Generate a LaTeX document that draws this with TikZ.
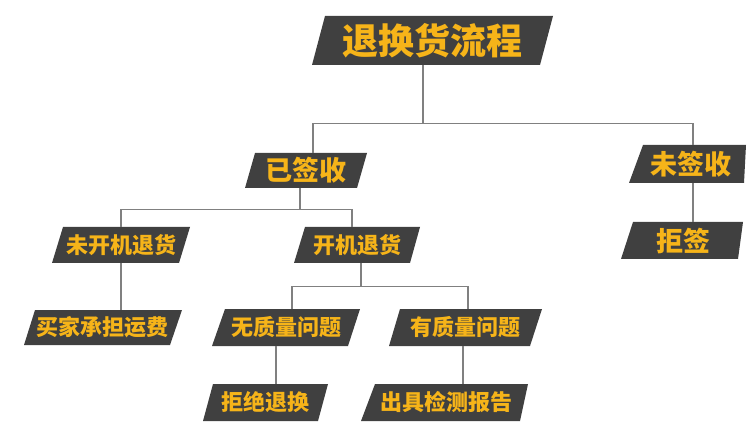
\documentclass[tikz,border=0pt]{standalone}
\usepackage{fontspec}
\newfontfamily\cjk{Noto Sans CJK SC}
\usetikzlibrary{backgrounds}
\definecolor{boxgray}{HTML}{404040}
\definecolor{txtyellow}{HTML}{F6B419}
\definecolor{linegray}{HTML}{808080}
\tikzset{
  boxfill/.style={fill=boxgray},
  boxtext/.style={inner sep=0pt, text=txtyellow, font=\cjk\bfseries},
  bigtxt/.style={boxtext, font=\cjk\bfseries\fontsize{36}{36}\selectfont},
  midtxt/.style={boxtext, font=\cjk\bfseries\fontsize{27}{27}\selectfont},
  smalltxt/.style={boxtext, font=\cjk\bfseries\fontsize{22}{22}\selectfont},
  conn/.style={draw=linegray, line width=1.2pt},
}
% name, tlx, trx, blx, brx, ty, by, style, text
\newcommand\pbox[9]{%
  \begin{scope}[on background layer]
  \fill[boxfill] (#2,#6) -- (#3,#6) -- (#5,#7) -- (#4,#7) -- cycle;
  \end{scope}
  \node[#8, minimum height={(#7-#6)*1pt}] (#1) at ({(#2+#3+#4+#5)/4},{(#6+#7)/2}) {#9};
}
\begin{document}
\begin{tikzpicture}[x=1pt,y=-1pt]
\begin{scope}[on background layer]
\fill[white] (0,0) rectangle (754,427);
\end{scope}
\useasboundingbox (0,0) rectangle (754,427);
\pbox{title}{325}{553}{312}{540}{16}{65}{bigtxt}{退换货流程}
\pbox{yqs}{255}{367}{245}{357}{153}{188}{midtxt}{已签收}
\pbox{wqs}{643}{746}{629}{744}{145}{183}{midtxt}{未签收}
\pbox{jq}{633}{743}{621}{738}{222}{259}{midtxt}{拒签}
\pbox{wkj}{63}{190}{52}{179}{227}{263}{smalltxt}{未开机退货}
\pbox{kj}{305}{420}{294}{410}{227}{263}{smalltxt}{开机退货}
\pbox{mj}{35}{182}{24}{170}{310}{345}{smalltxt}{买家承担运费}
\pbox{wz}{225}{360}{212}{348}{309}{346}{smalltxt}{无质量问题}
\pbox{yz}{400}{542}{389}{530}{309}{346}{smalltxt}{有质量问题}
\pbox{jj}{213}{328}{203}{318}{384}{421}{smalltxt}{拒绝退换}
\pbox{cj}{375}{528}{361}{520}{384}{421}{smalltxt}{出具检测报告}
% connectors
\draw[conn] ([xshift=-9.5pt]title.south) -- ++(0,58) coordinate (j1);
\draw[conn] (j1) -| ([xshift=7pt]yqs.north);
\draw[conn] (j1) -| ([xshift=2.5pt]wqs.north);
\draw[conn] ([xshift=2.5pt]wqs.south) -- ([xshift=9.25pt]jq.north);
\draw[conn] ([xshift=-6pt]yqs.south) -- ++(0,21) coordinate (j2);
\draw[conn] (j2) -| (wkj.north);
\draw[conn] (j2) -| ([xshift=-5.25pt]kj.north);
\draw[conn] (wkj.south) -- ([xshift=18.25pt]mj.north);
\draw[conn] ([xshift=3.75pt]kj.south) -- ++(0,23) coordinate (j3);
\draw[conn] (j3) -| ([xshift=5.75pt]wz.north);
\draw[conn] (j3) -| ([xshift=2.75pt]yz.north);
\draw[conn] ([xshift=-10.25pt]wz.south) -- ([xshift=10.5pt]jj.north);
\draw[conn] ([xshift=-2.25pt]yz.south) -- ([xshift=17pt]cj.north);
\end{tikzpicture}
\end{document}
